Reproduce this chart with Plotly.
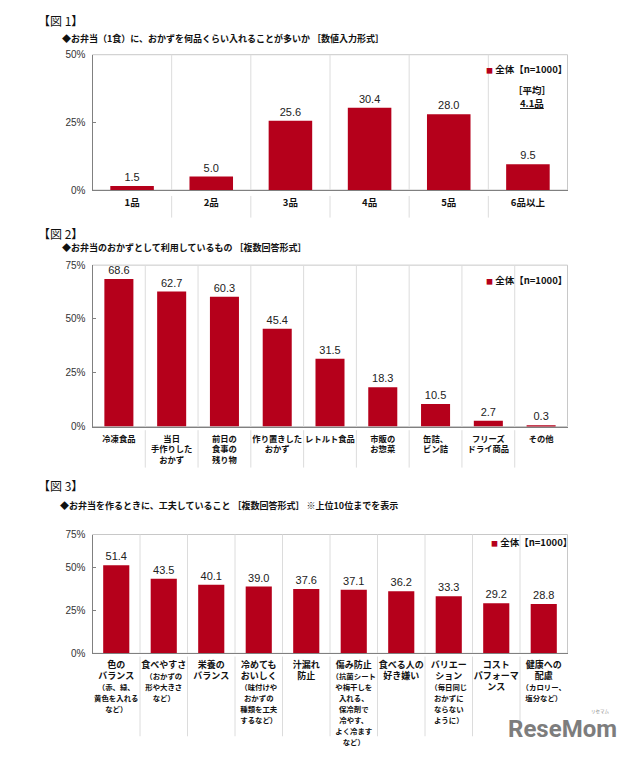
import plotly.graph_objects as go

W, H = 640, 759
RED = "#B5001B"
JP = "Noto Sans CJK JP"
NUM = "Liberation Sans"

# ---------------- data ----------------
fig1_categories = ["1品", "2品", "3品", "4品", "5品", "6品以上"]
fig1_values = [1.5, 5.0, 25.6, 30.4, 28.0, 9.5]

fig2_categories = [
    "冷凍食品",
    "当日<br>手作りした<br>おかず",
    "前日の<br>食事の<br>残り物",
    "作り置きした<br>おかず",
    "レトルト食品",
    "市販の<br>お惣菜",
    "缶詰、<br>ビン詰",
    "フリーズ<br>ドライ商品",
    "その他",
]
fig2_values = [68.6, 62.7, 60.3, 45.4, 31.5, 18.3, 10.5, 2.7, 0.3]

fig3_main = ["色の<br>バランス", "食べやすさ", "栄養の<br>バランス", "冷めても<br>おいしく",
             "汁漏れ<br>防止", "傷み防止", "食べる人の<br>好き嫌い", "バリエー<br>ション",
             "コスト<br>パフォーマ<br>ンス", "健康への<br>配慮"]
fig3_note = ["（赤、緑、<br>黄色を入れる<br>など）", "（おかずの<br>形や大きさ<br>など）", "",
             "（味付けや<br>おかずの<br>種類を工夫<br>するなど）", "",
             "（抗菌シート<br>や梅干しを<br>入れる、<br>保冷剤で<br>冷やす、<br>よく冷ます<br>など）",
             "", "（毎日同じ<br>おかずに<br>ならない<br>ように）", "", "（カロリー、<br>塩分など）"]
fig3_values = [51.4, 43.5, 40.1, 39.0, 37.6, 37.1, 36.2, 33.3, 29.2, 28.8]

y1_ticks = [0, 25, 50]
y1_text = ["0%", "25%", "50%"]
y2_ticks = [0, 25, 50, 75]
y2_text = ["0%", "25%", "50%", "75%"]
y3_ticks = [0, 25, 50, 69.4]
y3_text = ["0%", "25%", "50%", "75%"]

legend_text = "全体【n=1000】"
# --------------------------------------


def yp(py):
    return 1 - py / H


def xp(px):
    return px / W


def big(s, size):
    return "<br>".join(f"<span style='font-size:{size}px'>{p}</span>" for p in s.split("<br>"))


fig3_categories = []
for m, n in zip(fig3_main, fig3_note):
    lab = big(m, 9)
    if n:
        lab += "<br>" + big(n, 7.4)
    fig3_categories.append(lab)

fig = go.Figure()

panels = [
    (fig1_categories, fig1_values, "x", "y", (187, 49.5), [0, 50], y1_ticks, y1_text, 9.5, (193, 215), 4),
    (fig2_categories, fig2_values, "x2", "y2", (427.3, 263.3), [0, 75], y2_ticks, y2_text, 8.3, (431, 469), 4),
    (fig3_categories, fig3_values, "x3", "y3", (657.7, 537), [0, 69.4], y3_ticks, y3_text, 8.4, (661, 742), 4),
]

shapes = []
layout_axes = {}
for idx, (cats, vals, xa, ya, (bot, top), yr, tv, tt, fs, (s0, s1), so) in enumerate(panels):
    fig.add_trace(go.Bar(
        x=cats, y=vals, xaxis=xa, yaxis=ya,
        marker=dict(color=RED, line=dict(width=0)),
        width=0.55,
        text=[f"{v:.1f}" for v in vals], textposition="outside",
        textfont=dict(family=NUM, size=11, color="#222"),
        cliponaxis=False, showlegend=False, name=legend_text,
    ))
    sfx = "" if idx == 0 else str(idx + 1)
    layout_axes["xaxis" + sfx] = dict(
        domain=[xp(92.5), xp(567.5)], anchor="y" + sfx, type="category",
        range=[-0.5, len(cats) - 0.5], showgrid=False, zeroline=False,
        showline=True, linecolor="#808080", linewidth=1, ticks="", tickangle=0,
        tickfont=dict(family=JP, size=fs, color="#111", weight="bold"),
        ticklabelstandoff=so,
        fixedrange=True,
    )
    layout_axes["yaxis" + sfx] = dict(
        domain=[yp(bot), yp(top)], anchor="x" + sfx, range=yr,
        tickvals=tv, ticktext=tt, showgrid=False, zeroline=False,
        showline=True, linecolor="#808080", linewidth=1,
        ticks="inside", ticklen=3, tickcolor="#808080",
        tickfont=dict(family=NUM, size=10, color="#333"), ticklabelstandoff=4,
        fixedrange=True,
    )
    h = bot - top
    xref = xa
    yref = ya + " domain"
    shapes.append(dict(type="rect", xref=xa + " domain", yref=yref, x0=0, x1=1, y0=0, y1=1,
                       line=dict(color="#c8c8c8", width=1), layer="below"))
    for i in range(len(cats) - 1):
        shapes.append(dict(type="line", xref=xref, yref=yref, x0=i + 0.5, x1=i + 0.5, y0=0, y1=1,
                           line=dict(color="#dcdcdc", width=1), layer="below"))
        shapes.append(dict(type="line", xref=xref, yref=yref, x0=i + 0.5, x1=i + 0.5,
                           y0=-(s0 - bot) / h, y1=-(s1 - bot) / h,
                           line=dict(color="#dcdcdc", width=1), layer="below"))

ann = []


def add_text(text, x, y, size, bold=True, color="#111", xanchor="left", family=JP):
    ann.append(dict(text=text, x=xp(x), y=yp(y), xref="paper", yref="paper",
                    xanchor=xanchor, yanchor="middle", showarrow=False,
                    font=dict(family=family, size=size, color=color, weight="bold" if bold else "normal")))


add_text("【図 1】", 36, 15, 12, bold=False)
add_text("◆お弁当（1食）に、おかずを何品くらい入れることが多いか ［数値入力形式］", 60, 33, 9)
add_text("【図 2】", 36, 231, 12, bold=False)
add_text("◆お弁当のおかずとして利用しているもの ［複数回答形式］", 60, 245, 9)
add_text("【図 3】", 36, 487, 12, bold=False)
add_text("◆お弁当を作るときに、工夫していること ［複数回答形式］ ※上位10位までを表示", 58, 508, 9)

leg = f"<span style='color:{RED};font-size:7px'>■</span> {legend_text}"
add_text(leg, 484, 64, 9.5)
add_text(leg, 484, 278, 9.5)
add_text(leg, 489, 545, 9.5)

add_text("［平均］", 532, 85, 9.5, xanchor="center")
add_text("<u>4.1品</u>", 532, 99, 9.5, xanchor="center")

add_text("ReseMom", 562, 735, 24, color="#7d7d7d", xanchor="center", family="Roboto")
add_text("リセマム", 600, 717, 4.5, bold=False, color="#8a8a8a", xanchor="center")

fig.update_layout(
    width=W, height=H, margin=dict(l=0, r=0, t=0, b=0),
    paper_bgcolor="white", plot_bgcolor="white",
    bargap=0.45, shapes=shapes, annotations=ann, showlegend=False,
    **layout_axes,
)

fig.write_html("out.html", config={"displayModeBar": False},
               post_script="document.body.style.margin='0px';")
